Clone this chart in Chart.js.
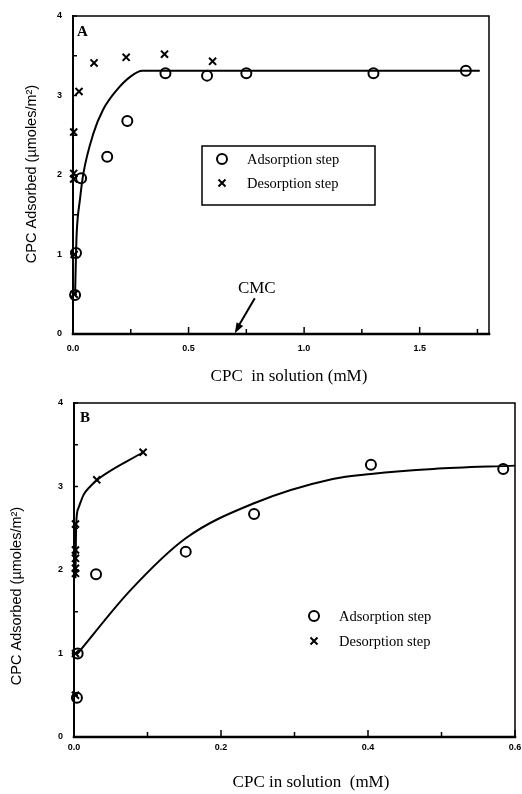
<!DOCTYPE html>
<html><head><meta charset="utf-8">
<script src="https://cdn.jsdelivr.net/npm/chart.js@4.4.1/dist/chart.umd.min.js"></script>
<style>
html,body{margin:0;padding:0;background:#fff;}
#wrap{position:relative;width:522px;height:794px;overflow:hidden;}
canvas{position:absolute;left:0;}
</style></head><body>
<div id="wrap">
<canvas id="cA" width="522" height="390" style="top:0"></canvas>
<canvas id="cB" width="522" height="404" style="top:390px"></canvas>
</div>
<script>
// ---------- Panel A data ----------
const aAdsX = [0.009, 0.013, 0.035, 0.148, 0.235, 0.40, 0.58, 0.75, 1.30, 1.70];
const aAdsY = [0.49, 1.02, 1.96, 2.23, 2.68, 3.28, 3.25, 3.28, 3.28, 3.31];
const aDesX = [0.005, 0.005, 0.003, 0.003, 0.003, 0.026, 0.091, 0.23, 0.396, 0.604];
const aDesY = [0.50, 1.00, 1.95, 2.02, 2.54, 3.05, 3.41, 3.48, 3.52, 3.43];
const aFitX = [0.009, 0.013, 0.016, 0.03, 0.045, 0.088, 0.13, 0.19, 0.25, 0.30, 1.76];
const aFitY = [0.49, 1.00, 1.27, 1.69, 2.02, 2.52, 2.82, 3.07, 3.24, 3.31, 3.31];
const aXTicks = [0, 0.5, 1.0, 1.5];
const aYTicks = [0, 1, 2, 3, 4];
const cmcValue = 0.70;

// ---------- Panel B data ----------
const bAdsX = [0.004, 0.005, 0.030, 0.152, 0.245, 0.404, 0.584];
const bAdsY = [0.47, 1.00, 1.95, 2.22, 2.67, 3.26, 3.21];
const bDesX = [0.002, 0.002, 0.002, 0.002, 0.002, 0.002, 0.002, 0.031, 0.094];
const bDesY = [0.50, 1.00, 1.96, 2.02, 2.14, 2.24, 2.55, 3.08, 3.41];
const bAdsFitX = [0.005, 0.076, 0.152, 0.245, 0.352, 0.404, 0.489, 0.60];
const bAdsFitY = [1.00, 1.75, 2.38, 2.80, 3.09, 3.15, 3.21, 3.25];
const bDesFitX = [0.002, 0.003, 0.006, 0.013, 0.022, 0.033, 0.094];
const bDesFitY = [1.90, 2.55, 2.74, 2.90, 3.00, 3.09, 3.41];
const bXTicks = [0, 0.2, 0.4, 0.6];
const bYTicks = [0, 1, 2, 3, 4];

const seriesNames = ['Adsorption step', 'Desorption step'];
const yTitle = 'CPC Adsorbed (µmoles/m²)';

const zip = (xs, ys) => xs.map((x, i) => ({x: x, y: ys[i]}));
const tickFont = {family: '"Liberation Sans", Arial, sans-serif', size: 9, weight: 'bold'};
const serif = '"Liberation Serif", "Times New Roman", serif';
const sans = '"Liberation Sans", Arial, sans-serif';

function drawMarker(ctx, style, x, y) {
  ctx.save();
  ctx.strokeStyle = '#000';
  ctx.lineWidth = 2;
  ctx.beginPath();
  if (style === 'circle') {
    ctx.arc(x, y, 5, 0, Math.PI * 2);
  } else {
    const d = 3.5;
    ctx.moveTo(x - d, y - d); ctx.lineTo(x + d, y + d);
    ctx.moveTo(x - d, y + d); ctx.lineTo(x + d, y - d);
  }
  ctx.stroke();
  ctx.restore();
}

function makeFramePlugin(o) {
  return {
    id: 'frame_' + o.name,
    afterDatasetsDraw(chart) {
      const ctx = chart.ctx, ca = chart.chartArea;
      const xs = chart.scales.x, ys = chart.scales.y;
      ctx.save();
      ctx.strokeStyle = '#000';
      ctx.lineCap = 'square';
      ctx.lineWidth = 1.5;
      ctx.beginPath();
      ctx.moveTo(ca.left, ca.bottom); ctx.lineTo(ca.left, ca.top);
      ctx.lineTo(ca.right, ca.top); ctx.lineTo(ca.right, ca.bottom);
      ctx.stroke();
      ctx.lineWidth = 2.5;
      ctx.beginPath();
      ctx.moveTo(ca.left, ca.bottom); ctx.lineTo(ca.right, ca.bottom);
      ctx.stroke();
      ctx.lineWidth = 2;
      ctx.beginPath();
      ctx.moveTo(ca.left, ca.bottom); ctx.lineTo(ca.left, ca.top);
      ctx.stroke();
      // inner ticks
      ctx.lineWidth = 1.5;
      ctx.lineCap = 'butt';
      for (let v = 0; v <= xs.max + 1e-9; v += o.xMinor) {
        const px = xs.getPixelForValue(v);
        const major = Math.abs(v / o.xMajor - Math.round(v / o.xMajor)) < 1e-6;
        ctx.beginPath();
        ctx.moveTo(px, ca.bottom); ctx.lineTo(px, ca.bottom - (major ? 7 : 5));
        ctx.stroke();
      }
      for (let v = 0; v <= ys.max + 1e-9; v += 0.5) {
        const py = ys.getPixelForValue(v);
        ctx.beginPath();
        ctx.moveTo(ca.left, py); ctx.lineTo(ca.left + 4, py);
        ctx.stroke();
      }
      // panel letter
      ctx.fillStyle = '#000';
      ctx.font = 'bold 15px ' + serif;
      ctx.textAlign = 'left'; ctx.textBaseline = 'middle';
      ctx.fillText(o.letter, ca.left + o.letterDx, ca.top + o.letterDy);
      // axis titles
      ctx.font = '17px ' + serif;
      ctx.textAlign = 'center';
      ctx.fillText(o.xTitle, o.xTitleX, o.xTitleY);
      ctx.save();
      ctx.translate(o.yTitleX, o.yTitleY);
      ctx.rotate(-Math.PI / 2);
      ctx.font = '14.5px ' + sans;
      ctx.fillText(yTitle, 0, 0);
      ctx.restore();
      // legend
      if (o.legendBox) {
        ctx.lineWidth = 1.5;
        ctx.strokeRect(o.legendBox[0], o.legendBox[1], o.legendBox[2], o.legendBox[3]);
      }
      ctx.font = '14.5px ' + serif;
      ctx.textAlign = 'left';
      const styles = ['circle', 'crossRot'];
      for (let i = 0; i < 2; i++) {
        const ly = o.legendY + i * o.legendGap;
        drawMarker(ctx, styles[i], o.legendX, ly);
        ctx.fillText(seriesNames[i], o.legendX + 25, ly + 1);
      }
      // CMC arrow
      if (o.cmc) {
        const tipX = xs.getPixelForValue(cmcValue), tipY = ys.getPixelForValue(0.01);
        const tailX = tipX + 20, tailY = tipY - 35;
        ctx.lineWidth = 2;
        ctx.beginPath(); ctx.moveTo(tailX, tailY); ctx.lineTo(tipX + 3, tipY - 6); ctx.stroke();
        const ang = Math.atan2(tipY - tailY, tipX - tailX);
        ctx.beginPath();
        ctx.moveTo(tipX, tipY);
        ctx.lineTo(tipX - 11 * Math.cos(ang - 0.35), tipY - 11 * Math.sin(ang - 0.35));
        ctx.lineTo(tipX - 11 * Math.cos(ang + 0.35), tipY - 11 * Math.sin(ang + 0.35));
        ctx.closePath(); ctx.fill();
        ctx.font = '17px ' + serif;
        ctx.textAlign = 'center';
        ctx.fillText('CMC', tailX + 2, tailY - 10);
      }
      ctx.restore();
    }
  };
}

function baseScales(xMax, xTicks, yTicks, xH, yW, xDigits, xPad) {
  return {
    x: {
      type: 'linear', min: 0, max: xMax,
      afterFit(s) { s.height = xH; s.paddingLeft = 0; s.paddingRight = 0; },
      afterBuildTicks(s) { s.ticks = xTicks.map(v => ({value: v})); },
      grid: {display: false, drawTicks: false}, border: {display: false},
      ticks: {font: tickFont, color: '#000', padding: xPad, maxRotation: 0, autoSkip: false,
              callback: v => Number(v).toFixed(xDigits)}
    },
    y: {
      type: 'linear', min: 0, max: 4,
      afterFit(s) { s.width = yW; s.paddingTop = 0; s.paddingBottom = 0; },
      afterBuildTicks(s) { s.ticks = yTicks.map(v => ({value: v})); },
      grid: {display: false, drawTicks: false}, border: {display: false},
      ticks: {font: tickFont, color: '#000', padding: 11, callback: v => String(v)}
    }
  };
}

const common = {
  responsive: false, animation: false, devicePixelRatio: 1,
  plugins: {legend: {display: false}, tooltip: {enabled: false}}
};

const adsStyle = {pointStyle: 'circle', pointRadius: 5, pointBorderWidth: 2, borderColor: '#000',
                  backgroundColor: 'rgba(0,0,0,0)', showLine: false, clip: false};
const desStyle = {pointStyle: 'crossRot', pointRadius: 5, pointBorderWidth: 2, borderColor: '#000',
                  backgroundColor: '#000', showLine: false, clip: false};
const fitStyle = {showLine: true, pointRadius: 0, borderColor: '#000', borderWidth: 2,
                  cubicInterpolationMode: 'monotone', clip: false, fill: false};

new Chart(document.getElementById('cA'), {
  type: 'scatter',
  data: {datasets: [
    Object.assign({label: seriesNames[0], data: zip(aAdsX, aAdsY)}, adsStyle),
    Object.assign({label: seriesNames[1], data: zip(aDesX, aDesY)}, desStyle),
    Object.assign({label: 'fit', data: zip(aFitX, aFitY)}, fitStyle)
  ]},
  options: Object.assign({}, common, {
    layout: {padding: {left: 0, right: 33, top: 16, bottom: 0}},
    scales: baseScales(1.8, aXTicks, aYTicks, 56, 73, 1, 9)
  }),
  plugins: [makeFramePlugin({name: 'A', xMinor: 0.25, xMajor: 0.5, letter: 'A', letterDx: 4, letterDy: 16,
    xTitle: 'CPC  in solution (mM)', xTitleX: 289, xTitleY: 377, yTitleX: 32, yTitleY: 174,
    legendBox: [202, 146, 173, 59], legendX: 222, legendY: 159, legendGap: 24, cmc: true})]
});

new Chart(document.getElementById('cB'), {
  type: 'scatter',
  data: {datasets: [
    Object.assign({label: seriesNames[0], data: zip(bAdsX, bAdsY)}, adsStyle),
    Object.assign({label: seriesNames[1], data: zip(bDesX, bDesY)}, desStyle),
    Object.assign({label: 'fit ads', data: zip(bAdsFitX, bAdsFitY)}, fitStyle),
    Object.assign({label: 'fit des', data: zip(bDesFitX, bDesFitY)}, fitStyle)
  ]},
  options: Object.assign({}, common, {
    layout: {padding: {left: 0, right: 7, top: 13, bottom: 0}},
    scales: baseScales(0.6, bXTicks, bYTicks, 57, 74, 1, 5)
  }),
  plugins: [makeFramePlugin({name: 'B', xMinor: 0.1, xMajor: 0.2, letter: 'B', letterDx: 6, letterDy: 15,
    xTitle: 'CPC in solution  (mM)', xTitleX: 311, xTitleY: 393, yTitleX: 17, yTitleY: 206,
    legendBox: null, legendX: 314, legendY: 226, legendGap: 25, cmc: false})]
});
</script>
</body></html>
